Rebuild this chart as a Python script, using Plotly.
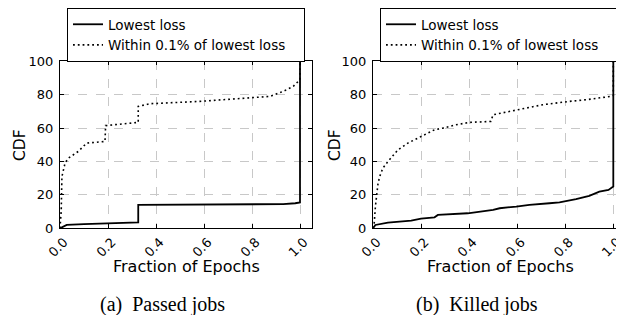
import plotly.graph_objects as go

# ---- data ----
passed_x_lowest = [0, 0.012, 0.028, 0.1, 0.2, 0.326, 0.326, 0.5, 0.7, 0.93, 0.98, 1.0, 1.0]
passed_y_lowest = [0, 1, 2, 2.5, 3, 3.6, 14, 14.1, 14.3, 14.5, 15, 15.5, 100]

passed_x_within = [0, 0.005, 0.008, 0.021, 0.035, 0.076, 0.111, 0.1875, 0.19, 0.326, 0.326,
                   0.375, 0.583, 0.79, 0.875, 0.93, 0.972, 1.0, 1.0]
passed_y_within = [0, 10, 31, 39, 42, 46, 51, 52, 61.5, 63.4, 73,
                   74.6, 76, 78, 79, 82, 85, 89, 100]

killed_x_lowest = [0, 0.005, 0.01, 0.062, 0.159, 0.2, 0.256, 0.27, 0.394, 0.5, 0.527, 0.596,
                   0.651, 0.734, 0.776, 0.845, 0.9, 0.942, 0.98, 1.0, 1.0]
killed_y_lowest = [0, 1.5, 2, 3.4, 4.6, 5.8, 6.6, 8, 9, 11, 12, 13,
                   14, 15, 15.5, 17.4, 19.4, 22, 23, 25, 100]

killed_x_within = [0, 0.005, 0.01, 0.014, 0.021, 0.028, 0.041, 0.062, 0.104, 0.145, 0.2, 0.256,
                   0.291, 0.346, 0.4, 0.49, 0.5, 0.568, 0.707, 0.817, 0.887, 0.99, 1.0, 1.0]
killed_y_within = [0, 3, 13, 19, 27, 31, 36, 40, 47, 51, 55, 59,
                   60, 62, 63.4, 64, 68, 70, 74, 76, 77, 79, 79.5, 100]

series_names = ["Lowest loss", "Within 0.1% of lowest loss\u00a0\u00a0\u00a0"]
x_ticks = [0.0, 0.2, 0.4, 0.6, 0.8, 1.0]
x_tick_labels = ["0.0", "0.2", "0.4", "0.6", "0.8", "1.0"]
y_ticks = [0, 20, 40, 60, 80, 100]
y_tick_labels = ["0", "20", "40", "60", "80", "100"]
x_title = "Fraction of Epochs"
y_title = "CDF"
captions = ["(a)\u00a0\u00a0Passed jobs", "(b)\u00a0\u00a0Killed jobs"]

W, H = 624, 315
OFF = 8  # page body margin offset
SANS = "DejaVu Sans"
SERIF = "Liberation Serif"

def px(v):
    return (v - OFF) / W

def py(v):
    return 1 - (v - OFF) / H

fig = go.Figure()

solid = dict(color="black", width=1.8)
dotted = dict(color="black", width=1.6, dash="1.8px,3px")

fig.add_trace(go.Scatter(x=passed_x_within, y=passed_y_within, mode="lines", line=dotted,
                         name=series_names[1], xaxis="x", yaxis="y", legend="legend",
                         legendrank=2))
fig.add_trace(go.Scatter(x=passed_x_lowest, y=passed_y_lowest, mode="lines", line=solid,
                         name=series_names[0], xaxis="x", yaxis="y", legend="legend",
                         legendrank=1))
fig.add_trace(go.Scatter(x=killed_x_within, y=killed_y_within, mode="lines", line=dotted,
                         name=series_names[1], xaxis="x2", yaxis="y2", legend="legend2",
                         legendrank=2))
fig.add_trace(go.Scatter(x=killed_x_lowest, y=killed_y_lowest, mode="lines", line=solid,
                         name=series_names[0], xaxis="x2", yaxis="y2", legend="legend2",
                         legendrank=1))

y_dom = [py(228.3), py(61.3)]

def xaxis(domain, rng, anchor):
    return dict(domain=domain, range=rng, anchor=anchor, tickvals=x_ticks, ticktext=x_tick_labels,
                tickangle=-45, ticks="inside", ticklen=4, tickcolor="black",
                showline=True, linecolor="black", linewidth=1.2, mirror="ticks",
                showgrid=True, gridcolor="#c8c8c8", griddash="dash", gridwidth=1,
                zeroline=False, automargin=False, ticklabelshift=4, ticklabelstandoff=0,
                tickfont=dict(family=SANS, size=13, color="black"), fixedrange=True)

def yaxis(anchor, mirror):
    return dict(domain=y_dom, range=[0, 100], anchor=anchor, tickvals=y_ticks, ticktext=y_tick_labels,
                ticks="inside", ticklen=4, tickcolor="black",
                showline=True, linecolor="black", linewidth=1.2, mirror=mirror,
                showgrid=True, gridcolor="#c8c8c8", griddash="dash", gridwidth=1,
                zeroline=False, automargin=False, ticklabelstandoff=3,
                tickfont=dict(family=SANS, size=13, color="black"), fixedrange=True)

x2_max = (W + OFF - 373) / 240.3

legend_common = dict(xanchor="left", yanchor="top", bgcolor="white", bordercolor="black",
                     borderwidth=1, font=dict(family=SANS, size=13.5, color="black"),
                     traceorder="normal", itemwidth=30, tracegroupgap=0)

fig.update_layout(
    width=W, height=H,
    margin=dict(l=0, r=0, t=0, b=0),
    paper_bgcolor="white", plot_bgcolor="white",
    xaxis=xaxis([px(60), px(312)], [0, 1.05], "y"),
    yaxis=yaxis("x", "ticks"),
    xaxis2=xaxis([px(373), 1.0], [0, x2_max], "y2"),
    yaxis2=yaxis("x2", False),
    legend=dict(x=px(67), y=1.0, **legend_common),
    legend2=dict(x=px(380), y=1.0, **legend_common),
    showlegend=True,
)

def ann(text, x, y, size, family, angle=0):
    return dict(text=text, x=px(x), y=py(y), xref="paper", yref="paper", textangle=angle,
                showarrow=False, xanchor="center", yanchor="middle",
                font=dict(family=family, size=size, color="black"))

annotations = [
    ann(x_title, 186, 266.7, 16, SANS),
    ann(x_title, 500, 266.7, 16, SANS),
    ann(y_title, 20, 145, 15.5, SANS, -90),
    ann(y_title, 335, 145, 15.5, SANS, -90),
    ann(captions[0], 162, 304.5, 20, SERIF),
    ann(captions[1], 477, 304.5, 20, SERIF),
]
fig.update_layout(annotations=annotations)

fig.write_html("out.html")
